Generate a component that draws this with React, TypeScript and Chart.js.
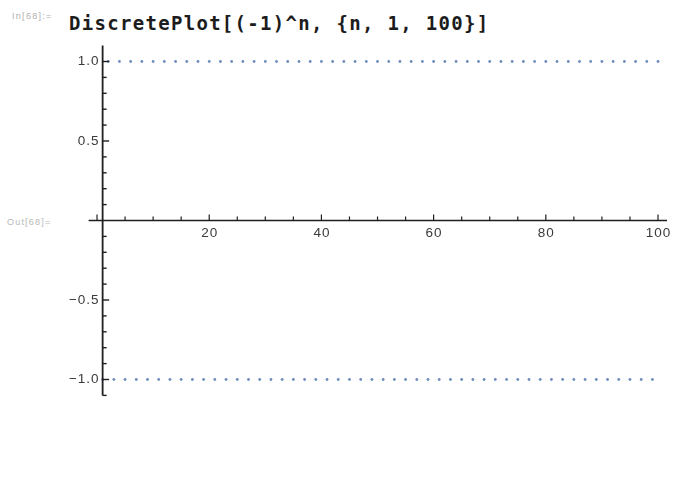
import React, { useEffect, useRef } from "react";
import { Chart, registerables } from "chart.js";

Chart.register(...registerables);

// n = 1 .. 100
const nValues = [
  1, 2, 3, 4, 5, 6, 7, 8, 9, 10,
  11, 12, 13, 14, 15, 16, 17, 18, 19, 20,
  21, 22, 23, 24, 25, 26, 27, 28, 29, 30,
  31, 32, 33, 34, 35, 36, 37, 38, 39, 40,
  41, 42, 43, 44, 45, 46, 47, 48, 49, 50,
  51, 52, 53, 54, 55, 56, 57, 58, 59, 60,
  61, 62, 63, 64, 65, 66, 67, 68, 69, 70,
  71, 72, 73, 74, 75, 76, 77, 78, 79, 80,
  81, 82, 83, 84, 85, 86, 87, 88, 89, 90,
  91, 92, 93, 94, 95, 96, 97, 98, 99, 100,
];

// (-1)^n
const yValues = [
  -1, 1, -1, 1, -1, 1, -1, 1, -1, 1,
  -1, 1, -1, 1, -1, 1, -1, 1, -1, 1,
  -1, 1, -1, 1, -1, 1, -1, 1, -1, 1,
  -1, 1, -1, 1, -1, 1, -1, 1, -1, 1,
  -1, 1, -1, 1, -1, 1, -1, 1, -1, 1,
  -1, 1, -1, 1, -1, 1, -1, 1, -1, 1,
  -1, 1, -1, 1, -1, 1, -1, 1, -1, 1,
  -1, 1, -1, 1, -1, 1, -1, 1, -1, 1,
  -1, 1, -1, 1, -1, 1, -1, 1, -1, 1,
  -1, 1, -1, 1, -1, 1, -1, 1, -1, 1,
];

const xTickLabels = [20, 40, 60, 80, 100];
const yTickLabels = [1.0, 0.5, -0.5, -1.0];
const xMinorStep = 5;
const yMinorStep = 0.1;

const X_MIN = -1.5;
const X_MAX = 101.6;
const Y_MIN = -1.1;
const Y_MAX = 1.1;
const Y_AXIS_AT = 1;

const fmtY = (v: number) => (v < 0 ? "\u2212" : "") + Math.abs(v).toFixed(1);

const axesPlugin = {
  id: "mmaAxes",
  afterDatasetsDraw(chart: any) {
    const ctx = chart.ctx;
    const xs = chart.scales.x;
    const ys = chart.scales.y;
    const area = chart.chartArea;
    const x1 = xs.getPixelForValue(Y_AXIS_AT);
    const y0 = ys.getPixelForValue(0);
    ctx.save();
    ctx.strokeStyle = "#1f1f1f";
    ctx.lineWidth = 1.6;
    // x axis
    ctx.beginPath();
    ctx.moveTo(area.left, y0);
    ctx.lineTo(area.right, y0);
    ctx.stroke();
    // y axis
    ctx.lineWidth = 1.8;
    ctx.beginPath();
    ctx.moveTo(x1, area.top);
    ctx.lineTo(x1, area.bottom);
    ctx.stroke();

    // y ticks (pointing right)
    ctx.lineWidth = 1.4;
    for (let k = -11; k <= 10; k++) {
      if (k === 0) continue;
      const v = k * yMinorStep;
      const py = ys.getPixelForValue(v);
      const major = k % 5 === 0;
      const len = major ? 6.5 : 4;
      ctx.beginPath();
      ctx.moveTo(x1, py);
      ctx.lineTo(x1 + len, py);
      ctx.stroke();
    }
    // x ticks (pointing up)
    ctx.lineWidth = 1.2;
    for (let v = 0; v <= 100; v += xMinorStep) {
      const px = xs.getPixelForValue(v);
      const major = v % 20 === 0;
      const len = major ? 6 : 4;
      ctx.beginPath();
      ctx.moveTo(px, y0);
      ctx.lineTo(px, y0 - len);
      ctx.stroke();
    }

    // labels
    ctx.fillStyle = "#3a3a3a";
    ctx.font = "13.5px 'Liberation Sans', Arial, sans-serif";
    try {
      ctx.letterSpacing = "1px";
    } catch (e) {}
    ctx.textAlign = "right";
    ctx.textBaseline = "middle";
    for (const v of yTickLabels) {
      ctx.fillText(fmtY(v), x1 - 3, ys.getPixelForValue(v));
    }
    ctx.textAlign = "center";
    ctx.textBaseline = "top";
    for (const v of xTickLabels) {
      ctx.fillText(String(v), xs.getPixelForValue(v) + 0.5, y0 + 6.5);
    }
    ctx.restore();
  },
};

export default function App() {
  const canvasRef = useRef<HTMLCanvasElement | null>(null);

  useEffect(() => {
    const canvas = canvasRef.current;
    if (!canvas) return;
    const chart = new Chart(canvas, {
      type: "scatter",
      data: {
        datasets: [
          {
            data: nValues.map((n, i) => ({ x: n, y: yValues[i] })),
            pointRadius: 1.4,
            pointBackgroundColor: "rgba(94,129,181,0.9)",
            pointBorderWidth: 0,
            showLine: false,
          },
        ],
      },
      options: {
        responsive: false,
        animation: false,
        devicePixelRatio: 1,
        layout: { padding: { left: 88.6, right: 8, top: 45.6, bottom: 99.6 } },
        scales: {
          x: { type: "linear", min: X_MIN, max: X_MAX, display: false },
          y: { type: "linear", min: Y_MIN, max: Y_MAX, display: false },
        },
        plugins: {
          legend: { display: false },
          tooltip: { enabled: false },
          title: { display: false },
        },
      },
      plugins: [axesPlugin],
    });
    return () => chart.destroy();
  }, []);

  return (
    <div
      style={{
        position: "absolute",
        left: 0,
        top: 0,
        width: 675,
        height: 495,
        background: "#ffffff",
        overflow: "hidden",
      }}
    >
      <div
        style={{
          position: "absolute",
          left: 12,
          top: 12,
          fontFamily: "'Liberation Sans', Arial, sans-serif",
          fontSize: 9,
          lineHeight: "9px",
          letterSpacing: "1.3px",
          color: "#b0b0b0",
          whiteSpace: "nowrap",
        }}
      >
        In[68]:=
      </div>
      <div
        style={{
          position: "absolute",
          left: 69,
          top: 13.9,
          fontFamily: "'DejaVu Sans Mono', monospace",
          fontWeight: "bold",
          fontSize: 19,
          lineHeight: "19px",
          letterSpacing: "1.3px",
          color: "#1c1c1c",
          whiteSpace: "nowrap",
        }}
      >
        DiscretePlot[(-1)^n, {"{"}n, 1, 100{"}"}]
      </div>
      <div
        style={{
          position: "absolute",
          left: 7,
          top: 217.5,
          fontFamily: "'Liberation Sans', Arial, sans-serif",
          fontSize: 9,
          lineHeight: "9px",
          letterSpacing: "1.2px",
          color: "#b8b8b8",
          whiteSpace: "nowrap",
        }}
      >
        Out[68]=
      </div>
      <canvas
        ref={canvasRef}
        width={675}
        height={495}
        style={{ position: "absolute", left: 0, top: 0, width: 675, height: 495 }}
      />
    </div>
  );
}
